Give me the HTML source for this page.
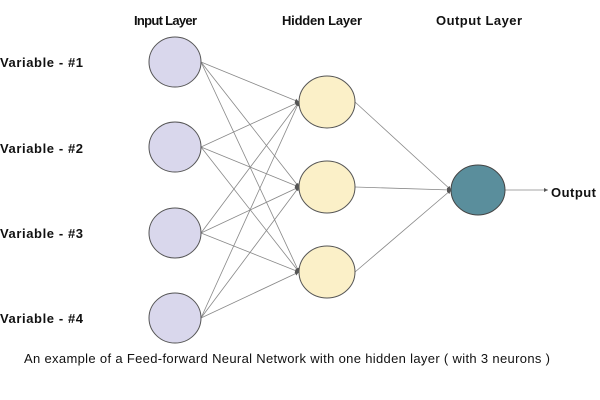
<!DOCTYPE html>
<html><head><style>body{margin:0;background:#fff}svg{display:block}text{font-family:"Liberation Sans",sans-serif}</style></head><body>
<svg width="600" height="400" viewBox="0 0 600 400">
<defs><marker id="a" markerWidth="6" markerHeight="6" refX="5" refY="3" orient="auto"><path d="M0,0.5 L5,3 L0,5.5z" fill="#555"/></marker></defs>
<g stroke="#888" stroke-width="0.8" marker-end="url(#a)">
<line x1="201" y1="62" x2="299" y2="102"/><line x1="201" y1="62" x2="299" y2="187"/><line x1="201" y1="62" x2="299" y2="272"/>
<line x1="201" y1="147" x2="299" y2="102"/><line x1="201" y1="147" x2="299" y2="187"/><line x1="201" y1="147" x2="299" y2="272"/>
<line x1="201" y1="233" x2="299" y2="102"/><line x1="201" y1="233" x2="299" y2="187"/><line x1="201" y1="233" x2="299" y2="272"/>
<line x1="201" y1="318" x2="299" y2="102"/><line x1="201" y1="318" x2="299" y2="187"/><line x1="201" y1="318" x2="299" y2="272"/>
<line x1="355" y1="102" x2="451" y2="190"/><line x1="355" y1="187" x2="451" y2="190"/><line x1="355" y1="272" x2="451" y2="190"/>
<line x1="505" y1="190" x2="548" y2="190"/>
</g>
<g fill="#d9d7ec" stroke="#555" stroke-width="1">
<ellipse cx="175" cy="62" rx="26" ry="25"/><ellipse cx="175" cy="147" rx="26" ry="25"/><ellipse cx="175" cy="233" rx="26" ry="25"/><ellipse cx="175" cy="318" rx="26" ry="25"/>
</g>
<g fill="#fbf0c8" stroke="#555" stroke-width="1">
<ellipse cx="327" cy="102" rx="28" ry="26"/><ellipse cx="327" cy="187" rx="28" ry="26"/><ellipse cx="327" cy="272" rx="28" ry="26"/>
</g>
<ellipse cx="478" cy="190" rx="27" ry="25" fill="#5a8e9c" stroke="#444"/>
<g font-size="13" font-weight="bold" fill="#111">
<text x="134" y="25" textLength="63">Input Layer</text><text x="282" y="25" textLength="80">Hidden Layer</text><text x="436" y="25" textLength="86">Output Layer</text>
<text x="0" y="67" textLength="83">Variable - #1</text><text x="0" y="153" textLength="83">Variable - #2</text><text x="0" y="238" textLength="83">Variable - #3</text><text x="0" y="323" textLength="83">Variable - #4</text>
<text x="551" y="197" textLength="45">Output</text>
</g>
<text x="24" y="363" font-size="13" fill="#111" textLength="526">An example of a Feed-forward Neural Network with one hidden layer ( with 3 neurons )</text>
</svg>
</body></html>
